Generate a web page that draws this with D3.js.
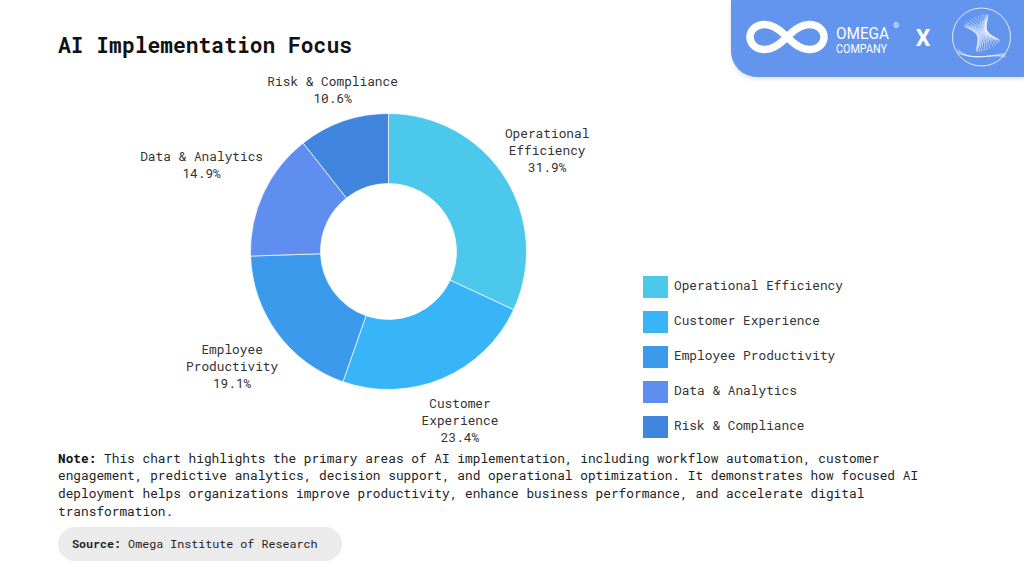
<!DOCTYPE html>
<html>
<head>
<meta charset="utf-8">
<script src="https://cdn.jsdelivr.net/npm/d3@7"></script>
<style>
  html, body { margin: 0; padding: 0; background: #ffffff; }
  svg { display: block; }
  text { font-family: "Roboto Mono", "DejaVu Sans Mono", "Liberation Mono", monospace; }
</style>
</head>
<body>
<svg id="chart" width="1024" height="576"></svg>
<script>
// ---- data ----
const categories = ["Operational Efficiency", "Customer Experience", "Employee Productivity", "Data & Analytics", "Risk & Compliance"];
const shares = [31.9, 23.4, 19.1, 14.9, 10.6];
const sliceColors = ["#4cc8ec", "#38b4f8", "#3b9aec", "#608ef0", "#4086de"];
const titleText = "AI Implementation Focus";
const noteLines = [
  "This chart highlights the primary areas of AI implementation, including workflow automation, customer",
  "engagement, predictive analytics, decision support, and operational optimization. It demonstrates how focused AI",
  "deployment helps organizations improve productivity, enhance business performance, and accelerate digital",
  "transformation."
];
const sourceText = "Omega Institute of Research";

// ---- layout ----
const svg = d3.select("#chart");
const W = 1024, H = 576;
const cx = 388.5, cy = 251.5, outerR = 138, innerR = 68;
const textColor = "#333333";
const fs = 12.8;
const labelNudge = [0, 6, 4, 0, -6]; // small radial label adjustments (layout only)

// header brand block
const defs = svg.append("defs");
const flt = defs.append("filter").attr("id", "shadow").attr("x", "-10%").attr("y", "-10%").attr("width", "120%").attr("height", "140%");
flt.append("feDropShadow").attr("dx", 0).attr("dy", 2).attr("stdDeviation", 2).attr("flood-color", "#000").attr("flood-opacity", 0.12);

const hx = 731, hy = 0, hw = W - 731, hh = 77, hr = 26;
svg.append("path")
  .attr("d", `M${hx},${hy} H${hx + hw} V${hy + hh} H${hx + hr} A${hr},${hr} 0 0 1 ${hx},${hy + hh - hr} Z`)
  .attr("fill", "#6394ee")
  .attr("filter", "url(#shadow)");

// infinity logo
const infPts = d3.range(0, 2 * Math.PI + 0.01, 0.02).map(t => {
  const a = 37;
  const d = 1 + Math.sin(t) * Math.sin(t);
  return [787 + a * Math.cos(t) / d, 37 + 0.95 * a * Math.sin(t) * Math.cos(t) / d];
});
svg.append("path")
  .attr("d", d3.line()(infPts))
  .attr("fill", "none").attr("stroke", "#ffffff").attr("stroke-width", 7.5).attr("stroke-linejoin", "round");

const brandFont = "Roboto, 'Liberation Sans', sans-serif";
const brand = svg.append("text").style("font-family", brandFont).attr("fill", "#fff");
brand.append("tspan").attr("x", 836).attr("y", 39).attr("font-size", 16)
  .attr("textLength", 53).attr("lengthAdjust", "spacingAndGlyphs").text("OMEGA");
brand.append("tspan").attr("x", 836).attr("y", 53).attr("font-size", 13.5)
  .attr("textLength", 51).attr("lengthAdjust", "spacingAndGlyphs").text("COMPANY");
svg.append("text").attr("x", 893).attr("y", 28)
  .style("font-family", brandFont)
  .attr("font-size", 8).attr("fill", "#fff").text("®");
svg.append("text").attr("x", 923).attr("y", 46)
  .style("font-family", brandFont)
  .attr("font-size", 23).attr("font-weight", 700).attr("text-anchor", "middle").attr("fill", "#fff").text("X");

// round emblem
const ex = 981.5, ey = 37;
svg.append("circle").attr("cx", ex).attr("cy", ey).attr("r", 29)
  .attr("fill", "none").attr("stroke", "#ffffff").attr("stroke-opacity", 0.8).attr("stroke-width", 1);
const mesh = svg.append("g")
  .attr("transform", `translate(${ex + 1},${ey - 3}) rotate(-25)`)
  .attr("stroke", "#ffffff").attr("fill", "none").attr("stroke-width", 0.5).attr("stroke-opacity", 0.85);
d3.range(0, 24).forEach(i => {
  const p = i / 24 * 2 * Math.PI;
  const q = p + 2.3;
  mesh.append("line")
    .attr("x1", 13 * Math.cos(p)).attr("y1", -15 + 3.5 * Math.sin(p))
    .attr("x2", 13 * Math.cos(q)).attr("y2", 13 + 3.5 * Math.sin(q));
});
const waves = svg.append("g").attr("stroke", "#ffffff").attr("fill", "none").attr("stroke-width", 0.5).attr("stroke-opacity", 0.7);
d3.range(0, 5).forEach(i => {
  waves.append("path").attr("d", `M${ex - 24},${ey + 12 + i} C${ex - 10},${ey + 26 - i} ${ex + 6},${ey + 16 + i} ${ex + 24},${ey + 20 - i}`);
});

// title
svg.append("text").attr("x", 58).attr("y", 53)
  .attr("font-size", 21.3).attr("font-weight", 700).attr("fill", "#111111")
  .text(titleText);

// donut
const data = categories.map((c, i) => ({ name: c, value: shares[i], color: sliceColors[i] }));
const pie = d3.pie().value(d => d.value).sort(null);
const arcs = pie(data);
const arc = d3.arc().innerRadius(innerR).outerRadius(outerR);
const g = svg.append("g").attr("transform", `translate(${cx},${cy})`);
g.selectAll("path.slice").data(arcs).join("path")
  .attr("class", "slice")
  .attr("d", arc)
  .attr("fill", d => d.data.color)
  .attr("stroke", "#ffffff").attr("stroke-width", 1).attr("stroke-opacity", 0.7);

// slice labels (outside, along mid-angle)
const lineH = 17;
const labelGap = 150;
arcs.forEach((a, k) => {
  const name = a.data.name;
  const words = name.split(" ");
  let lines;
  if (name.length > 18 && words.length >= 2) {
    const mid = Math.ceil(words.length / 2);
    lines = [words.slice(0, mid).join(" "), words.slice(mid).join(" ")];
  } else {
    lines = [name];
  }
  lines.push(d3.format(".1f")(a.data.value) + "%");
  const t = g.append("text").attr("text-anchor", "middle").attr("font-size", fs).attr("fill", textColor);
  const spans = lines.map(l => t.append("tspan").text(l));
  const w = d3.max(spans, s => s.node().getComputedTextLength());
  const h = lines.length * lineH;
  const th = (a.startAngle + a.endAngle) / 2;
  const s = Math.sin(th), c = Math.cos(th);
  const ext = Math.sqrt(Math.pow(w / 2 * s, 2) + Math.pow(h / 2 * c, 2));
  const R = labelGap + ext + labelNudge[k];
  const bx = R * s, by = -R * c;
  spans.forEach((sp, i) => {
    sp.attr("x", bx).attr("y", by + (i - (lines.length - 1) / 2) * lineH + 4.5);
  });
});

// legend
const legend = svg.append("g").attr("transform", "translate(643,276)");
const li = legend.selectAll("g").data(data).join("g")
  .attr("transform", (d, i) => `translate(0,${i * 35})`);
li.append("rect").attr("width", 25).attr("height", 22).attr("fill", d => d.color);
li.append("text").attr("x", 31).attr("y", 14).attr("font-size", fs).attr("fill", textColor).text(d => d.name);

// note
const note = svg.append("text").attr("font-size", fs).attr("fill", "#222222");
noteLines.forEach((l, i) => {
  const ts = note.append("tspan").attr("x", 58).attr("y", 462.5 + i * 17.7);
  if (i === 0) {
    ts.append("tspan").attr("font-weight", 700).attr("fill", "#111").text("Note:");
    ts.append("tspan").text(" " + l);
  } else {
    ts.text(l);
  }
});

// source pill
svg.append("rect").attr("x", 58).attr("y", 527).attr("width", 284).attr("height", 34).attr("rx", 17)
  .attr("fill", "#ebebeb");
const src = svg.append("text").attr("x", 72).attr("y", 548).attr("font-size", 11.7).attr("fill", "#222");
src.append("tspan").attr("font-weight", 700).text("Source:");
src.append("tspan").text(" " + sourceText);
</script>
</body>
</html>
